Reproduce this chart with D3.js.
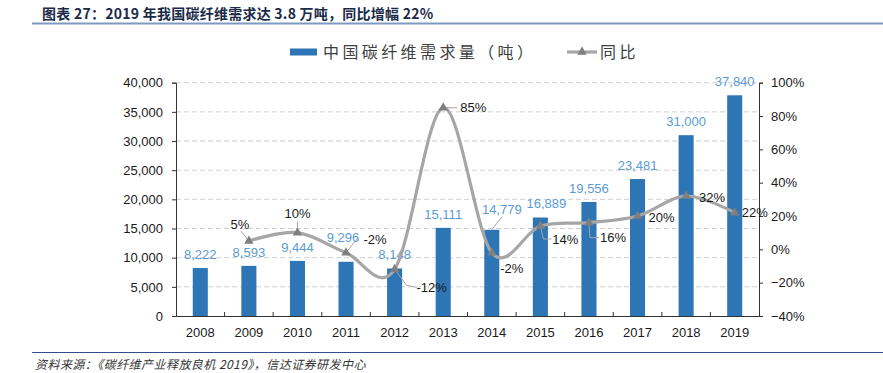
<!DOCTYPE html>
<html><head><meta charset="utf-8">
<script src="https://cdn.jsdelivr.net/npm/d3@7/dist/d3.min.js"></script>
<style>
html,body{margin:0;padding:0;background:#fff;}
svg{display:block;}
</style></head>
<body>
<svg id="c" width="883" height="373"></svg>
<script>
// ---- data ----
const years = ["2008","2009","2010","2011","2012","2013","2014","2015","2016","2017","2018","2019"];
const demand = [8222,8593,9444,9296,8148,15111,14779,16889,19556,23481,31000,37840];
const growth = [null,0.05,0.10,-0.02,-0.12,0.85,-0.02,0.14,0.16,0.20,0.32,0.22];
const growthLabels = ["","5%","10%","-2%","-12%","85%","-2%","14%","16%","20%","32%","22%"];
const leftTicks = [0,5000,10000,15000,20000,25000,30000,35000,40000];
const rightTicks = [-0.4,-0.2,0,0.2,0.4,0.6,0.8,1.0];
const titleText = "图表 27：2019 年我国碳纤维需求达 3.8 万吨，同比增幅 22%";
const legendBar = "中国碳纤维需求量（吨）";
const legendLine = "同比";
const sourceText = "资料来源：《碳纤维产业释放良机 2019》，信达证券研发中心";

// ---- layout (label nudges, px) ----
const barLabelNudge = {"2011":[-3,-11],"2014":[10,-7],"2015":[6,0]};
const pctLabelNudge = [[0,0],[-9,-17],[0,-19],[29,-13],[37,18],[30,0],[20,16],[25,13],[24,15],[24,1],[26,1],[20,0]];

const svg = d3.select("#c");
const latin = "'Liberation Sans', Arial, 'Noto Sans CJK SC', sans-serif";
const cjk = "'Noto Sans CJK SC', 'Liberation Sans', sans-serif";

const L = 176, R = 759, T = 82.7, B = 316;
const x = d3.scaleBand().domain(years).range([L, R]).padding(0);
const yL = d3.scaleLinear().domain([0, 40000]).range([B, T]);
const yR = d3.scaleLinear().domain([-0.4, 1.0]).range([B, T]);
const barW = x.bandwidth() * 0.31;
const cx = d => x(d) + x.bandwidth() / 2;

// title
svg.append("text").attr("x", 42).attr("y", 19)
  .attr("font-family", cjk).attr("font-weight", "bold").attr("font-size", 14)
  .attr("letter-spacing", "0.25px")
  .attr("fill", "#1b2a48").text(titleText);
svg.append("line").attr("x1", 32).attr("x2", 883).attr("y1", 23.5).attr("y2", 23.5)
  .attr("stroke", "#7f9ac0").attr("stroke-width", 2);

// footer
svg.append("line").attr("x1", 32).attr("x2", 883).attr("y1", 352.5).attr("y2", 352.5)
  .attr("stroke", "#2f4f8f").attr("stroke-width", 1);
svg.append("text").attr("x", 35).attr("y", 369)
  .attr("font-family", cjk).attr("font-style", "italic").attr("font-size", 12)
  .attr("letter-spacing", "0.45px")
  .attr("fill", "#333").text(sourceText);

// gridlines
svg.append("g").selectAll("line").data(leftTicks.filter(t => t > 0)).join("line")
  .attr("x1", L).attr("x2", R).attr("y1", d => yL(d)).attr("y2", d => yL(d))
  .attr("stroke", "#d0d0d0").attr("stroke-dasharray", "5,3").attr("stroke-width", 1);

// bars
svg.append("g").selectAll("rect").data(years).join("rect")
  .attr("x", d => cx(d) - barW / 2).attr("width", barW)
  .attr("y", (d, i) => yL(demand[i])).attr("height", (d, i) => B - yL(demand[i]))
  .attr("fill", "#2e75b6");

// axes
const axL = d3.axisLeft(yL).tickValues(leftTicks).tickSize(4).tickPadding(9).tickFormat(d3.format(","));
const axR = d3.axisRight(yR).tickValues(rightTicks).tickSize(4).tickPadding(8).tickFormat(d3.format(".0%"));
const gL = svg.append("g").attr("transform", `translate(${L},0)`).call(axL);
const gR = svg.append("g").attr("transform", `translate(${R},0)`).call(axR);
[gL, gR].forEach(g => {
  g.select(".domain").attr("stroke", "#333");
  g.selectAll(".tick line").attr("stroke", "#333");
  g.selectAll("text").attr("font-family", latin).attr("font-size", 13).attr("fill", "#1a1a1a");
});
const gX = svg.append("g").attr("transform", `translate(0,${B})`).call(
  d3.axisBottom(x).tickSize(0).tickPadding(12));
gX.select(".domain").attr("stroke", "#333");
gX.selectAll("text").attr("font-family", latin).attr("font-size", 13).attr("fill", "#1a1a1a");
// category boundary ticks (pointing up)
svg.append("g").selectAll("line").data(years.slice(1)).join("line")
  .attr("x1", d => x(d)).attr("x2", d => x(d)).attr("y1", B).attr("y2", B - 4)
  .attr("stroke", "#333");

// bar labels
svg.append("g").selectAll("text").data(years).join("text")
  .attr("x", (d) => cx(d) + (barLabelNudge[d] ? barLabelNudge[d][0] : 0))
  .attr("y", (d, i) => yL(demand[i]) - 9 + (barLabelNudge[d] ? barLabelNudge[d][1] : 0))
  .attr("text-anchor", "middle").attr("font-family", latin).attr("font-size", 13)
  .attr("fill", "#5b9bd5").text((d, i) => d3.format(",")(demand[i]));

// growth line
const pts = years.map((d, i) => ({ y: d, v: growth[i], i })).filter(p => p.v !== null);
const line = d3.line().x(p => cx(p.y)).y(p => yR(p.v)).curve(d3.curveCatmullRom.alpha(0));
svg.append("path").datum(pts).attr("d", line)
  .attr("fill", "none").attr("stroke", "#a6a6a6").attr("stroke-width", 3.2);

// leader lines
const lead = (pts2) => svg.append("polyline").attr("points", pts2.map(p => p.join(",")).join(" "))
  .attr("fill", "none").attr("stroke", "#a6a6a6").attr("stroke-width", 1);
const P = i => [cx(years[i]), yR(growth[i])];
lead([[P(1)[0] - 8, P(1)[1] - 10], P(1)]);
lead([[P(2)[0], P(2)[1] - 11], P(2)]);
lead([P(3), [P(3)[0] + 12, P(3)[1] - 15]]);
lead([P(4), [P(4)[0] + 12, P(4)[1] + 16], [P(4)[0] + 22, P(4)[1] + 18]]);
lead([P(5), [P(5)[0] + 14, P(5)[1]]]);
lead([[cx("2014"), yL(14779)], [cx("2014") + 10, yL(14779) - 13]]);
lead([P(7), [P(7)[0] + 3, P(7)[1] + 13], [P(7)[0] + 11, P(7)[1] + 13]]);
lead([P(8), [P(8)[0] + 1, P(8)[1] + 15], [P(8)[0] + 10, P(8)[1] + 15]]);

// markers
svg.append("g").selectAll("path").data(pts).join("path")
  .attr("transform", p => `translate(${cx(p.y)},${yR(p.v)})`)
  .attr("d", d3.symbol(d3.symbolTriangle, 38))
  .attr("fill", "#7f7f7f");

// growth labels
svg.append("g").selectAll("text").data(pts).join("text")
  .attr("x", p => cx(p.y) + pctLabelNudge[p.i][0])
  .attr("y", p => yR(p.v) + pctLabelNudge[p.i][1] + 4.5)
  .attr("text-anchor", "middle").attr("font-family", latin).attr("font-size", 13)
  .attr("fill", "#1a1a1a").text(p => growthLabels[p.i]);

// legend
const lg = svg.append("g");
lg.append("rect").attr("x", 290).attr("y", 48.5).attr("width", 27).attr("height", 7).attr("fill", "#2e75b6");
lg.append("text").attr("x", 323).attr("y", 58).attr("font-family", cjk).attr("font-size", 16)
  .attr("letter-spacing", "3.4px").attr("fill", "#404040").text(legendBar);
lg.append("line").attr("x1", 567).attr("x2", 597).attr("y1", 52).attr("y2", 52)
  .attr("stroke", "#a6a6a6").attr("stroke-width", 3.2);
lg.append("path").attr("transform", "translate(582,52)").attr("d", d3.symbol(d3.symbolTriangle, 38)).attr("fill", "#7f7f7f");
lg.append("text").attr("x", 600).attr("y", 58).attr("font-family", cjk).attr("font-size", 16)
  .attr("letter-spacing", "3.4px").attr("fill", "#404040").text(legendLine);
</script>
</body></html>
